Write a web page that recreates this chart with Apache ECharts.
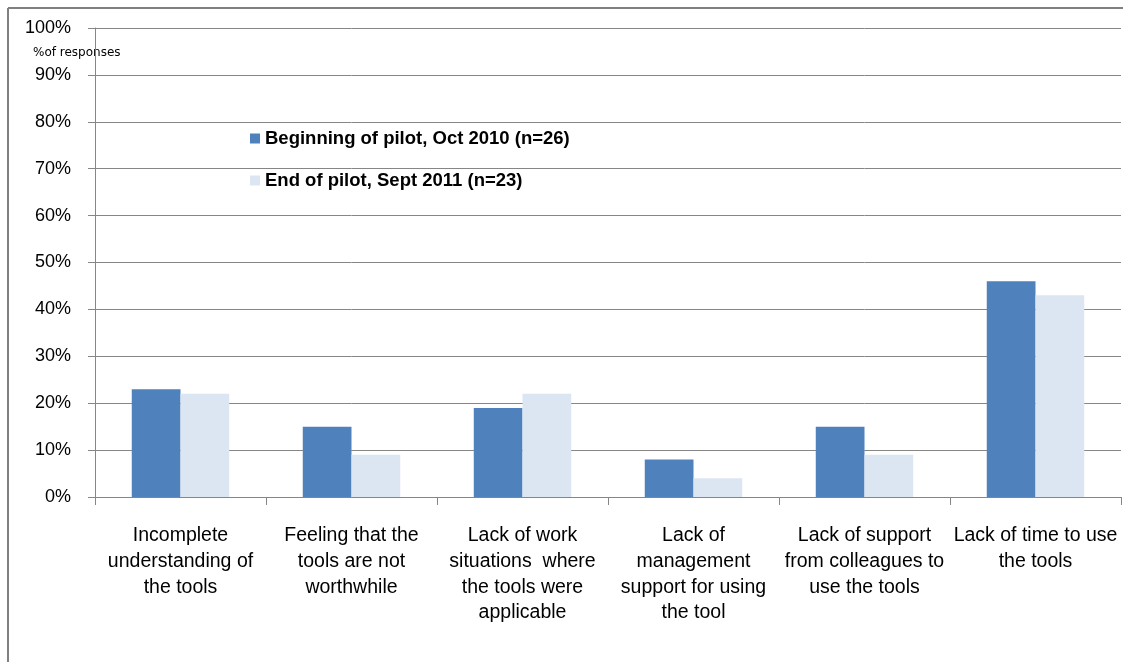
<!DOCTYPE html>
<html>
<head>
<meta charset="utf-8">
<script src="https://cdn.jsdelivr.net/npm/echarts@6/dist/echarts.min.js"></script>
<style>
  html, body { margin: 0; padding: 0; background: #fff; }
  #chart { width: 1123px; height: 662px; }
</style>
</head>
<body>
<div id="chart"></div>
<script>
// Reasons reported for not using the tools, share of responses
const categories = [
  'Incomplete\nunderstanding of\nthe tools',
  'Feeling that the\ntools are not\nworthwhile',
  'Lack of work\nsituations  where\nthe tools were\napplicable',
  'Lack of\nmanagement\nsupport for using\nthe tool',
  'Lack of support\nfrom colleagues to\nuse the tools',
  'Lack of time to use\nthe tools'
];
const seriesNames = ['Beginning of pilot, Oct 2010 (n=26)', 'End of pilot, Sept 2011 (n=23)'];
const beginningValues = [23, 15, 19, 8, 15, 46];
const endValues = [22, 9, 22, 4, 9, 43];
const axisName = '%of responses';

const gridColor = '#868686';
const labelFont = "'Liberation Sans', Arial, sans-serif";

const chart = echarts.init(document.getElementById('chart'), null, { renderer: 'canvas' });
chart.setOption({
  backgroundColor: '#ffffff',
  animation: false,
  grid: { left: 95, right: 2, top: 28, bottom: 165, containLabel: false },
  legend: {
    orient: 'vertical',
    left: 245,
    top: 124,
    itemWidth: 10,
    itemHeight: 10,
    itemGap: 23,
    icon: 'rect',
    textStyle: { fontFamily: labelFont, fontSize: 18.5, fontWeight: 'bold', color: '#000' },
    data: seriesNames
  },
  xAxis: {
    type: 'category',
    data: categories,
    axisLine: { show: true, lineStyle: { color: gridColor, width: 1 } },
    axisTick: { show: true, length: 8, alignWithLabel: false, lineStyle: { color: gridColor } },
    axisLabel: {
      interval: 0,
      margin: 26,
      fontFamily: labelFont,
      fontSize: 19.5,
      lineHeight: 25.7,
      color: '#000',
      align: 'center'
    }
  },
  yAxis: {
    type: 'value',
    min: 0,
    max: 100,
    interval: 10,
    axisLine: { show: true, lineStyle: { color: gridColor, width: 1 } },
    axisTick: { show: true, length: 7, lineStyle: { color: gridColor } },
    splitLine: { show: true, lineStyle: { color: gridColor, width: 1 } },
    axisLabel: {
      margin: 24,
      fontFamily: labelFont,
      fontSize: 18,
      color: '#000',
      formatter: '{value}%'
    }
  },
  graphic: [
    { type: 'line', shape: { x1: 8, y1: 8, x2: 8, y2: 662 }, style: { stroke: '#808080', lineWidth: 2 } },
    { type: 'line', shape: { x1: 8, y1: 8, x2: 1123, y2: 8 }, style: { stroke: '#808080', lineWidth: 2 } },
    {
      type: 'text', left: 33, top: 47,
      style: { text: axisName, font: "12px 'DejaVu Sans', sans-serif", fill: '#000' }
    }
  ],
  series: [
    {
      name: seriesNames[0],
      type: 'bar',
      data: beginningValues,
      barGap: '0%',
      barCategoryGap: '43%',
      itemStyle: { color: '#4F81BD' }
    },
    {
      name: seriesNames[1],
      type: 'bar',
      data: endValues,
      barGap: '0%',
      barCategoryGap: '43%',
      itemStyle: { color: '#DCE6F2' }
    }
  ]
});
</script>
</body>
</html>
